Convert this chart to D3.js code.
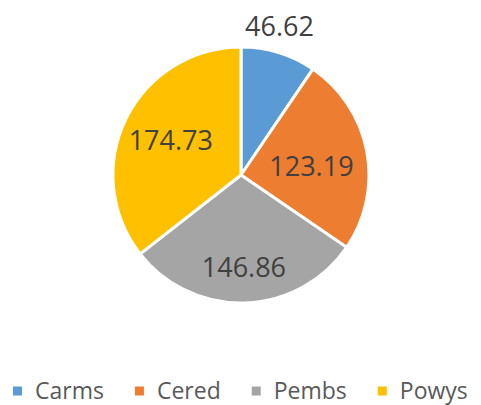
<!DOCTYPE html>
<html>
<head>
<meta charset="utf-8">
<script src="https://cdn.jsdelivr.net/npm/d3@7"></script>
<style>
  body { margin: 0; background: #fff; }
  svg text { font-family: "Open Sans", "Liberation Sans", sans-serif; }
</style>
</head>
<body>
<div id="chart"></div>
<script>
var regions = ["Carms", "Cered", "Pembs", "Powys"];
var values = [46.62, 123.19, 146.86, 174.73];
var colours = ["#5B9BD5", "#ED7D31", "#A5A5A5", "#FFC000"];
// how far out each label sits, as a share of the radius (Excel "best fit")
var labelPos = [1.21, 0.56, 0.72, 0.61];

var width = 481, height = 405;
var cx = 241, cy = 175, radius = 128;

var svg = d3.select("#chart").append("svg")
    .attr("width", width)
    .attr("height", height);

var g = svg.append("g")
    .attr("transform", "translate(" + cx + "," + cy + ")");

var pie = d3.pie().sort(null).value(function(d) { return d; });
var arcs = pie(values);

var arc = d3.arc().innerRadius(0).outerRadius(radius);

g.selectAll("path").data(arcs)
  .enter().append("path")
    .attr("d", arc)
    .attr("fill", function(d, i) { return colours[i]; })
    .attr("stroke", "#fff")
    .attr("stroke-width", 3);

g.selectAll("text.lbl").data(arcs)
  .enter().append("text")
    .attr("class", "lbl")
    .attr("transform", function(d, i) {
      var r = radius * labelPos[i];
      var c = d3.arc().innerRadius(r).outerRadius(r).centroid(d);
      if (i == 0) c[0] -= 7;   // Excel nudges the outside label toward the top
      if (i == 1) c[1] += 5;
      return "translate(" + c + ")";
    })
    .attr("text-anchor", "middle")
    .attr("dy", "0.35em")
    .style("font-size", "27px")
    .style("fill", "#404040")
    .text(function(d) { return d.data.toFixed(2); });

// legend, laid out one after another
var legend = svg.append("g").attr("transform", "translate(0,391)");
var lx = 13;
regions.forEach(function(name, i) {
  var item = legend.append("g").attr("transform", "translate(" + lx + ",0)");
  item.append("rect")
      .attr("x", 0).attr("y", -4.5)
      .attr("width", 9).attr("height", 9)
      .attr("fill", colours[i]);
  var t = item.append("text")
      .attr("x", 22)
      .attr("dy", "0.35em")
      .style("font-size", "23px")
      .style("fill", "#595959")
      .text(name);
  lx += 22 + t.node().getComputedTextLength() + 31;
});
</script>
</body>
</html>
